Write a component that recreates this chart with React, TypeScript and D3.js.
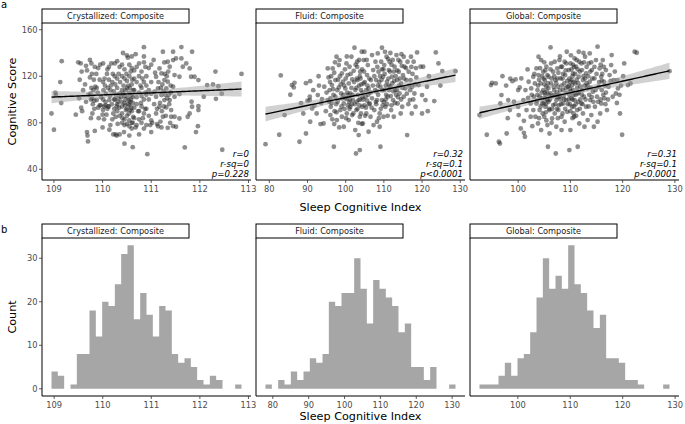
import React from "react";
import * as d3 from "d3";

type Pt = [number, number];

const panelTitles = ["Crystallized: Composite", "Fluid: Composite", "Global: Composite"];

const crystallizedPoints: Pt[] = [
  [108.95,88],[109.0,74],[109.03,106],[109.04,104],
  [109.15,97],[109.13,115],[109.16,133],
  [109.45,87],
  [109.5,132],[109.55,131],[109.53,117],[109.56,93],[109.58,90],[109.52,101],[109.57,124],[109.6,108],
  [109.66,129],[109.68,125],[109.66,98],[109.68,72],[109.69,69],[109.7,64],[109.64,113],[109.71,104],
  [109.74,134],[109.77,131],[109.77,110],[109.75,105],[109.76,100],[109.79,88],[109.84,73],[109.84,128],[109.82,117],[109.8,96],[109.78,122],[109.83,92],[109.81,108],[109.74,119],[109.85,111],[109.79,101],[109.76,84],[109.83,99],
  [109.88,110],[109.88,99.5],[109.91,93],[109.92,84],[109.94,95],[109.96,95],[109.97,102],[109.87,122],[109.91,127],[109.95,130],[109.94,117],[109.9,106],
  [110.0,87],[110.01,100],[110.01,91],[110.03,94],[110.06,95],[110.08,87],[110.1,92],[110.11,94],[110.01,131],[110.04,118],[110.01,115],[110.09,122],[110.11,110],[110.07,105],[110.0,76],[110.05,112],[110.03,83],[110.1,126],[110.06,98],[110.02,108],
  [110.13,94],[110.14,99.5],[110.16,108],[110.13,117],[110.18,131],[110.21,122],[110.2,115],[110.23,107],[110.14,74],[110.16,78],[110.22,88],[110.19,96],[110.15,103],[110.24,92],[110.17,112],[110.2,83],[110.24,100],[110.13,128],[110.22,70],
  [110.27,70],[110.29,69],[110.25,120],[110.3,118],[110.25,100],[110.3,96],[110.3,90],[110.35,86],[110.3,110],[110.35,105],[110.3,133],[110.25,131],[110.35,128],[110.32,98],[110.28,104],[110.34,93],[110.26,113],[110.36,115],[110.33,122],[110.27,85],[110.31,79],[110.35,70],[110.29,94],[110.33,101],
  [110.42,140],[110.4,130],[110.45,126],[110.4,120],[110.45,118],[110.4,108],[110.45,103],[110.4,94],[110.45,97],[110.4,88],[110.45,83],[110.4,80],[110.45,78],[110.45,62],[110.5,138],[110.5,116],[110.5,110],[110.5,92],[110.5,86],[110.5,79],[110.43,112],[110.47,100],[110.39,98],[110.48,91],[110.42,105],[110.46,95],[110.41,84],[110.49,122],[110.44,72],[110.38,102],[110.47,108],
  [110.52,136],[110.55,130],[110.55,120],[110.55,106],[110.55,95],[110.55,82],[110.55,77],[110.55,69],[110.6,137],[110.6,127],[110.6,113],[110.6,104],[110.6,90],[110.6,80],[110.62,97],[110.62,80],[110.62,59],[110.58,100],[110.53,112],[110.57,98],[110.63,108],[110.54,88],[110.59,93],[110.52,102],[110.61,117],[110.56,110],[110.63,85],[110.53,96],[110.58,124],[110.6,75],[110.54,99],[110.62,102],[110.57,91],
  [110.65,125],[110.65,118],[110.65,108],[110.65,93],[110.65,84],[110.68,139],[110.7,128],[110.7,115],[110.7,102],[110.7,96],[110.7,78],[110.68,76],[110.75,131],[110.75,120],[110.75,106],[110.73,90],
  [110.75,90],[110.75,83],[110.75,70],[110.8,124],[110.8,110],[110.8,103],[110.8,94],[110.8,80],[110.85,145],[110.85,137],[110.85,132],[110.85,115],[110.85,100],[110.85,88],[110.85,75],[110.78,112],[110.82,118],[110.88,106],[110.79,97],[110.87,92],[110.83,84],[110.88,128],
  [110.9,120],[110.9,112],[110.9,104],[110.9,92],[110.9,78],[110.92,53],[110.95,127],[110.95,108],[110.95,100],[110.95,86],[110.98,78],[111.0,130],[111.0,115],[111.0,105],[111.0,82],[111.0,72],[111.02,80],
  [111.1,119.6],[111.07,106.7],[111.1,102.4],[111.1,88],[111.12,78.9],[111.14,77],[111.14,109.5],[111.06,96],[111.15,115],[111.08,123],[111.12,92],[111.05,134],
  [111.17,126.7],[111.21,122.4],[111.27,116.7],[111.21,103.8],[111.27,99.5],[111.17,93.8],[111.24,85.2],[111.21,76],[111.24,141.1],[111.27,131.9],[111.2,110],[111.25,107],[111.18,97],[111.22,90],[111.28,122],[111.19,81],[111.26,94],[111.23,113],[111.29,104],
  [111.34,132.5],[111.38,128.2],[111.34,115.3],[111.31,109.5],[111.38,99.5],[111.31,93.2],[111.41,90.9],[111.41,85.2],[111.34,75.7],[111.32,120],[111.36,104],[111.4,112],[111.3,86],[111.37,96],[111.33,101],[111.39,80],[111.35,124],[111.4,106],
  [111.45,141.1],[111.45,133.9],[111.51,135.3],[111.48,121],[111.45,111],[111.48,102.4],[111.48,85.2],[111.45,77.1],[111.51,76.6],
  [111.62,145.1],[111.62,135.3],[111.58,119.6],[111.58,104.7],[111.58,83.7],[111.65,128.2],
  [111.72,131],[111.79,126.7],[111.69,58.8],[111.75,85.2],[111.79,88],
  [111.84,141.1],[111.84,93.8],[111.83,98.1],[111.82,119.6],[111.89,119.6],
  [111.97,116.7],[111.97,94.3],[111.97,90.9],[111.96,77.1],[111.92,72],
  [112.08,102.4],[112.15,112.4],
  [112.27,113],[112.32,124],[112.33,100.6],
  [112.38,111.5],[112.45,105],[112.46,56.8],
  [112.856,122]
];

const fluidPoints: Pt[] = [
  [79.0,61.6],
  [82.6,69.7],[83.0,120.7],
  [84.0,86.6],
  [85.5,104.1],[85.9,112.4],[86.4,110.4],[86.6,114.4],
  [87.9,63.7],[88.3,96.9],
  [89.6,114.1],[89.6,70.8],[90.0,99],[88.9,88],
  [90.6,99.5],[90.7,115.8],[90.6,102.4],[91.2,92.3],[90.7,80.9],[91.8,94.6],[91.5,108],
  [92.7,103.8],[93.4,78.9],[92.4,88],[93.0,112],[93.6,97],[92.9,120],
  [93.8,100.4],[94.2,79.4],[94.4,111],[95.3,126.7],[95.5,119],[95.3,99.5],[94.8,90],[95.0,106],
  [95.8,108.1],[96.0,86.6],[96.1,93.8],[96.4,112.4],[96.6,126.7],[96.9,59.4],[97.0,78.9],[97.3,116.7],[97.3,102.4],[95.7,98],[96.2,120],[96.8,104],[97.1,90],[96.5,83],[95.9,115],[97.2,132],[96.3,97],[96.7,109],[97.0,123],[96.0,101],
  [97.6,136.8],[97.7,82.3],[97.9,98.1],[98.2,110.4],[98.2,129.6],[98.4,133.9],[98.6,90.9],[98.8,105.2],[99.0,85.2],[99.0,122.4],[97.5,96],[98.0,117],[98.5,120],[98.9,94],[97.8,108],[98.3,76],[99.1,101],[98.7,113],[97.6,89],
  [99.3,115.3],[99.5,76.6],[99.5,96.6],[99.9,109.5],[100.2,131],[100.2,100.9],[100.3,88],[100.5,121],[100.8,82.3],[100.8,113.8],[99.4,104],[99.7,92],[100.0,118],[100.4,106],[100.6,95],[99.8,126],[100.1,84],[100.7,104],[99.6,112],[100.9,98],[100.3,137],[99.9,101],
  [101.0,128.2],[101.2,93.8],[101.2,105.2],[101.5,136.8],[101.7,117.3],[101.7,86.6],[101.9,99.5],[102.1,124.7],[102.3,144.5],[102.5,108.1],[102.5,73.7],[102.7,53.6],[101.5,110],[101.0,92],[102.0,88],[102.4,96],[101.3,122],[101.8,104],[102.2,115],[101.1,100],[102.6,130],[101.6,96],
  [102.8,90.9],[103.0,132.5],[103.1,116.7],[103.4,99.5],[103.4,69.4],[103.7,56.5],[103.7,85.2],[103.8,123.9],[104.0,108.1],[104.2,141.1],[104.3,93.8],[103.5,112],[103.0,128],[104.0,88],[103.2,104],[103.9,118],[104.4,102],[102.9,98],[103.6,95],[104.1,113],[103.3,80],[104.3,126],[102.8,110],[103.8,100],[104.2,79],[103.5,134],[103.1,92],[104.4,106],[103.7,120],[102.9,118],
  [104.5,79.4],[104.7,133.9],[104.7,113.8],[104.9,141.1],[105.2,102.4],[105.4,88],[105.6,121],[105.8,129.6],[106.0,72.3],[106.0,109.5],[105.0,115],[105.5,134],[104.6,100],[105.3,93],[105.9,104],[106.1,96],[104.8,124],[105.7,112],[105.1,86],[105.4,108],[106.2,118],[104.9,95],[105.6,99],
  [106.3,96.6],[106.5,85.2],[106.6,116.7],[106.9,138.2],[106.9,101],[107.2,125.3],[107.3,78],[107.5,90.9],[107.7,108.1],[107.8,132.5],[106.5,106],[107.5,120],[106.8,93],[107.1,112],[107.9,98],
  [108.0,116.7],[108.2,80.9],[108.2,99.5],[108.4,139.6],[108.6,123.9],[108.9,76.6],[108.9,88],[109.1,111],[109.1,59.4],[109.3,132.5],[109.5,144.5],[109.5,99.5],[108.5,104],[108.0,96],[109.5,126],[108.3,128],[108.8,115],[109.2,92],[108.1,107],[109.6,108],[108.7,84],[109.0,120],[109.4,117],[108.4,112],[109.7,95],
  [109.8,119.6],[109.9,85.2],[110.1,129.6],[110.1,108.1],[110.4,93.8],[110.7,136.8],[110.8,115.3],[111.0,102.4],[111.3,125.3],[111.5,132.5],[110.5,112],[110.0,98],[110.3,141],[111.0,86],[110.6,104],[111.2,118],[109.9,126],[110.8,96],[111.4,108],[110.2,122],[111.1,135],[110.5,100],[111.3,112],
  [111.7,111],[111.9,90.9],[112.1,119.6],[112.4,99.5],[112.6,85.2],[112.8,128.2],[113.0,108.1],[113.3,138.2],[112.0,130],[112.5,107],[111.6,124],[112.2,114],[112.9,97],[113.1,120],[111.8,103],[112.3,134],[112.7,116],[113.2,104],[112.0,95],[111.7,140],[112.6,124],
  [113.5,116.7],[113.6,96.6],[113.9,123.9],[114.1,105.2],[114.3,132.5],[114.5,113.8],[114.8,93.8],[115.0,121],[113.5,125],[114.5,100],[114.0,112],[114.7,129],[113.4,108],[114.2,118],[114.9,110],[113.8,134],[114.4,88],[113.7,102],[114.6,139],
  [115.2,136.8],[115.2,102.4],[115.4,128.2],[115.6,109.5],[115.9,116.7],[116.1,69.4],[116.2,132.5],[116.5,123.9],[116.0,105],[115.8,127],[116.6,112],[115.3,118],[116.4,96],
  [116.8,99.5],[117.0,116.7],[117.1,136.8],[117.4,111],[117.8,132.5],[118.0,105.2],[118.3,93.8],[117.5,122],[118.5,119],[117.2,128],[118.2,113],[116.9,108],[117.7,100],[118.4,127],[117.3,88],
  [118.7,140.5],[119.1,112.4],[119.6,128.2],[120.0,103.8],[120.0,88],
  [120.3,128.2],[120.9,99.5],[121.3,111],[121.8,120],[121.5,90],
  [123.6,140.5],[123.2,98.7],
  [124.3,131],[125.3,124.5],[124.8,112],
  [128.76,124.4]
];

const globalPoints: Pt[] = [
  [92.6,86.6],
  [94.0,69.7],
  [94.8,112.4],[95.0,114.4],[95.7,113.8],
  [96.5,62.2],[96.3,63.7],[96.6,96.6],[96.8,103.8],[97.0,120.1],
  [97.8,70.8],[98.1,99.5],[98.4,90.9],[97.7,112],[98.5,118],[98.0,84],
  [98.9,115.8],[99.2,98.1],[99.5,117.3],
  [100.0,108.1],[100.0,93.8],[100.1,86.6],[100.3,110.4],[100.5,75.1],[100.6,118.1],[101.0,99.5],
  [101.1,71.4],[101.3,68],[101.1,81.7],[101.4,108.1],[101.6,90.9],[101.8,125.9],[101.9,101.3],[102.0,115.3],
  [102.4,85.2],[102.4,96.6],[102.5,109.5],[102.7,77.1],[102.9,119.6],[102.9,90.9],[103.0,102.4],[103.2,113.8],[103.3,85.2],[103.5,126.7],[103.5,96.6],[102.6,104],[103.1,122],
  [103.7,108.1],[103.8,79.4],[103.9,136.8],[103.9,121],[104.1,90.9],[104.1,102.4],[104.3,113.8],[104.4,73.7],[104.4,133.9],[104.6,96.6],[103.6,99],[104.0,117],[104.2,127],[104.5,106],[103.8,112],[104.7,88],[104.3,94],[103.7,104],[104.6,120],[104.0,84],[104.5,101],
  [104.8,108.1],[104.8,123.9],[105.0,85.2],[105.1,116.7],[105.1,101],[105.2,93.8],[105.4,111],[105.4,128.2],[105.6,78],[105.7,99.5],[105.7,59.4],[105.8,119.6],[104.9,97],[105.0,113],[105.2,104],[105.3,89],[105.5,107],[105.6,121],[105.9,104],[105.0,132],[105.3,96],[105.8,110],[105.9,92],[104.9,118],[105.5,100],[105.2,125],[105.7,114],[105.4,82],[105.1,106],[105.8,98],
  [106.0,90.9],[106.0,70.8],[106.2,144.8],[106.2,105.2],[106.3,131],[106.3,113.8],[106.5,83.7],[106.7,95.2],[106.7,123.9],[106.9,108.1],[107.0,132.5],[107.0,88],[107.1,116.7],[106.1,100],[106.4,118],[106.6,103],[106.8,111],[107.1,96],[106.2,126],[106.5,92],[106.9,120],[106.4,80],[107.0,104],
  [107.2,53.6],[107.3,99.5],[107.3,76.6],[107.5,126.7],[107.6,111],[107.7,90.9],[107.9,133.9],[107.9,102.4],[108.1,118.1],[108.3,85.2],[108.3,73.7],[107.4,106],[107.5,118],[107.8,95],[108.0,108],[108.2,128],[107.3,114],[107.6,84],[108.1,100],[107.7,123],[108.3,112],[107.4,92],[108.0,137],[107.9,104],[108.2,96],[107.5,102],
  [108.4,128.2],[108.6,108.1],[108.6,96.6],[108.8,113.8],[108.9,132.5],[108.9,80.9],[109.0,121],[109.2,99.5],[109.3,141.1],[109.4,89.4],[109.5,111],[108.5,118],[108.7,103],[109.0,92],[109.1,125],[109.3,106],[108.5,88],[109.4,116],[108.8,100],[109.2,131],[109.5,96],[108.6,122],[109.1,110],
  [109.7,125.3],[109.8,56.5],[109.8,103.8],[110.0,73.7],[110.0,131],[110.2,116.7],[110.3,93.8],[110.5,108.1],[110.5,122.4],[110.7,85.2],[110.8,135.3],[110.8,99.5],[109.7,112],[109.9,96],[110.1,107],[110.2,126],[110.4,100],[110.6,115],[110.7,128],[109.8,118],[110.0,90],[110.3,112],[110.6,104],[110.1,138],[110.4,120],[109.9,109],[110.7,94],[110.2,101],[110.5,130],[110.0,115],[110.6,88],[109.7,100],[110.4,84],
  [110.9,113.8],[111.1,128.2],[111.3,90.9],[111.4,59.4],[111.4,105.2],[111.6,141.1],[111.6,119.6],[111.7,132.5],[111.7,79.4],[111.9,111],[111.0,104],[111.2,117],[111.5,98],[111.8,124],[111.0,96],[111.3,110],[111.6,106],[111.9,100],[111.2,134],[111.5,114],[110.9,122],[111.8,92],[111.4,126],[111.1,86],
  [112.1,96.6],[112.1,131],[112.2,125.3],[112.4,88],[112.4,116.7],[112.6,102.4],[112.7,76.6],[112.8,136.8],[113.0,122.4],[113.0,93.8],[113.2,109.5],[112.3,108],[112.5,120],[112.7,112],[112.9,100],[113.1,128],[112.2,104],[112.6,132],[112.8,118],[112.3,96],[113.1,114],[112.5,140],
  [113.3,82.3],[113.5,131],[113.7,115.3],[113.7,139.6],[113.8,99.5],[114.0,86.6],[114.1,125.3],[114.3,106.7],[113.4,120],[113.6,104],[113.9,110],[114.2,118],[113.5,94],[114.0,132],[113.3,112],[114.4,98],[113.8,124],[114.1,102],
  [114.5,76.6],[114.6,118.1],[114.7,93.8],[114.9,133.9],[115.1,102.4],[115.2,145.4],[115.2,80.9],[115.4,111],[115.6,126.7],[114.8,108],[115.0,122],[115.3,98],[114.6,128],[115.5,115],
  [115.7,88],[115.9,119.6],[115.9,96.6],[116.0,108.1],[116.2,133.9],[116.4,115.3],[116.5,101],[116.8,125.3],[116.1,122],[116.3,104],[116.6,112],[115.8,130],[116.7,96],[116.0,116],[116.4,128],[116.8,106],[115.8,100],
  [117.0,90.9],[117.3,111],[117.5,121],[117.8,129.6],[117.9,138.2],[117.2,100],[117.7,116],
  [118.1,102.4],[118.3,116.7],[118.7,105.2],[119.0,116.7],[119.1,109.5],[118.5,124],[118.9,97],
  [119.5,88],[119.9,69.7],[120.3,131],[119.7,112],[120.1,120],[119.4,104],
  [121.0,112.4],[121.5,113.8],
  [122.3,141.1],[122.7,140.2],
  [128.97,124.4]
];

// fitted regression line (value at min and max x) and CI half-widths
const fitStartY = [102.1, 87.5, 88.6];
const fitEndY = [109.0, 121.0, 124.7];
const bandCenterHalf = [2.0, 1.8, 1.8];
const bandLeftHalf = [5.2, 6.3, 5.3];
const bandRightHalf = [6.5, 6.0, 7.0];

const statR = ["r=0", "r=0.32", "r=0.31"];
const statRsq = ["r-sq=0", "r-sq=0.1", "r-sq=0.1"];
const statP = ["p=0.228", "p<0.0001", "p<0.0001"];

const xTicks = [
  [109, 110, 111, 112, 113],
  [80, 90, 100, 110, 120, 130],
  [100, 110, 120, 130],
];
const scatterYTicks = [40, 80, 120, 160];
const scatterYDomain = [30.8, 165.8];

const histCrystallized = [4,3,0,1,8,8,18,12,20,19,24,31,33,16,22,17,12,19,18,8,6,7,5,2,1,3,2,0,0,1];
const histFluid = [1,0,2,1,4,2,4,7,6,8,20,19,22,22,30,23,15,25,23,21,19,13,15,5,5,2,5,0,0,1];
const histGlobal = [1,1,1,3,6,3,7,8,13,21,30,23,26,23,33,24,22,18,14,17,7,7,6,2,2,1,0,0,0,1];
const histStart = [108.945, 77.96, 92.69];
const histBinWidth = [0.1304, 1.766, 1.208];
const histYTicks = [0, 10, 20, 30];

// layout
const PANEL_X0 = 42;
const PANEL_W = 209;
const PANEL_GAP = 5;
const STRIP_W = 147;
const STRIP_H = 14;
const A_TOP = 23;
const A_BOTTOM = 180;
const B_TOP = 238;
const B_BOTTOM = 396;
const FONT = "DejaVu Sans, Verdana, sans-serif";
const TICK_FS = 8.3;
const TITLE_FS = 11.2;

const panelLeft = (i: number) => PANEL_X0 + i * (PANEL_W + PANEL_GAP);

function Strip({ x, y, label }: { x: number; y: number; label: string }) {
  return (
    <g>
      <rect x={x} y={y} width={STRIP_W} height={STRIP_H} fill="#fff" stroke="#000" strokeWidth={1} />
      <text x={x + STRIP_W / 2} y={y + STRIP_H / 2 + 3} textAnchor="middle" fontSize={8.2} fill="#1a1a1a" fontFamily={FONT}>
        {label}
      </text>
    </g>
  );
}

export default function App() {
  const scatterSets = [crystallizedPoints, fluidPoints, globalPoints];
  const hists = [histCrystallized, histFluid, histGlobal];
  const yA = d3.scaleLinear().domain(scatterYDomain).range([A_BOTTOM, A_TOP]);
  const histMax = d3.max(hists.flat()) as number;
  const yB = d3.scaleLinear().domain([-0.05 * histMax, histMax * 1.05]).range([B_BOTTOM, B_TOP]);

  return (
    <svg width={685} height={424} style={{ position: "absolute", left: 0, top: 0, background: "#fff" }} fontFamily={FONT}>
      <rect x={0} y={0} width={685} height={424} fill="#fff" />
      {/* ---------- a: scatter panels ---------- */}
      {scatterSets.map((pts, i) => {
        const L = panelLeft(i);
        const [xmin, xmax] = d3.extent(pts, (d) => d[0]) as [number, number];
        const r = xmax - xmin;
        const x = d3.scaleLinear().domain([xmin - 0.05 * r, xmax + 0.05 * r]).range([L, L + PANEL_W]);
        const fit = d3.scaleLinear().domain([xmin, xmax]).range([fitStartY[i], fitEndY[i]]);
        const a = bandCenterHalf[i];
        const dl = Math.sqrt(bandLeftHalf[i] ** 2 - a * a);
        const dr = Math.sqrt(bandRightHalf[i] ** 2 - a * a);
        const b = (dl + dr) / r;
        const xm = xmin + dl / b;
        const half = (v: number) => Math.sqrt(a * a + (b * (v - xm)) ** 2);
        const xs = d3.range(0, 81).map((k) => xmin + (r * k) / 80);
        const area = d3
          .area<number>()
          .x((v) => x(v))
          .y0((v) => yA(fit(v) - half(v)))
          .y1((v) => yA(fit(v) + half(v)));
        const line = d3
          .line<number>()
          .x((v) => x(v))
          .y((v) => yA(fit(v)));
        return (
          <g key={"a" + i}>
            {pts.map((p, k) => (
              <circle key={k} cx={x(p[0])} cy={yA(p[1])} r={2.4} fill="#262626" fillOpacity={0.52} />
            ))}
            <path d={area(xs) || ""} fill="#999" fillOpacity={0.45} />
            <path d={line(xs) || ""} fill="none" stroke="#000" strokeWidth={1.4} />
            <text x={L + PANEL_W - 2} y={157} textAnchor="end" fontSize={8.6} fontStyle="italic" fill="#000">{statR[i]}</text>
            <text x={L + PANEL_W - 2} y={166.8} textAnchor="end" fontSize={8.6} fontStyle="italic" fill="#000">{statRsq[i]}</text>
            <text x={L + PANEL_W - 2} y={176.6} textAnchor="end" fontSize={8.6} fontStyle="italic" fill="#000">{statP[i]}</text>
            {/* axes */}
            <line x1={L} x2={L} y1={A_TOP} y2={A_BOTTOM} stroke="#000" strokeWidth={1} />
            <line x1={L} x2={L + PANEL_W} y1={A_BOTTOM} y2={A_BOTTOM} stroke="#000" strokeWidth={1} />
            {xTicks[i].map((t) => (
              <g key={t}>
                <line x1={x(t)} x2={x(t)} y1={A_BOTTOM} y2={A_BOTTOM + 3} stroke="#333" strokeWidth={0.8} />
                <text x={x(t)} y={A_BOTTOM + 11.5} textAnchor="middle" fontSize={TICK_FS} fill="#4d4d4d">{t}</text>
              </g>
            ))}
            {i === 0 &&
              scatterYTicks.map((t) => (
                <g key={t}>
                  <line x1={L - 3} x2={L} y1={yA(t)} y2={yA(t)} stroke="#333" strokeWidth={0.8} />
                  <text x={L - 4.5} y={yA(t) + 3} textAnchor="end" fontSize={TICK_FS} fill="#4d4d4d">{t}</text>
                </g>
              ))}
            <Strip x={L} y={A_TOP - STRIP_H} label={panelTitles[i]} />
          </g>
        );
      })}
      <text x={16} y={(A_TOP + A_BOTTOM) / 2} transform={`rotate(-90 16 ${(A_TOP + A_BOTTOM) / 2})`} textAnchor="middle" fontSize={TITLE_FS} fill="#000">Cognitive Score</text>
      <text x={panelLeft(1) + PANEL_W / 2} y={211} textAnchor="middle" fontSize={TITLE_FS} fill="#000">Sleep Cognitive Index</text>
      <text x={1} y={8} fontSize={10} fill="#000">a</text>

      {/* ---------- b: histogram panels ---------- */}
      {hists.map((counts, i) => {
        const L = panelLeft(i);
        const w = histBinWidth[i];
        const s = histStart[i];
        const span = counts.length * w;
        const x = d3.scaleLinear().domain([s - 0.05 * span, s + span + 0.05 * span]).range([L, L + PANEL_W]);
        const p = d3.path();
        counts.forEach((c, k) => {
          if (c > 0) {
            const x0 = x(s + k * w);
            const x1 = x(s + (k + 1) * w);
            p.rect(x0, yB(c), x1 - x0, yB(0) - yB(c));
          }
        });
        return (
          <g key={"b" + i}>
            <path d={p.toString()} fill="#a6a6a6" fillRule="nonzero" />
            <line x1={L} x2={L} y1={B_TOP} y2={B_BOTTOM} stroke="#000" strokeWidth={1} />
            <line x1={L} x2={L + PANEL_W} y1={B_BOTTOM} y2={B_BOTTOM} stroke="#000" strokeWidth={1} />
            {xTicks[i].map((t) => (
              <g key={t}>
                <line x1={x(t)} x2={x(t)} y1={B_BOTTOM} y2={B_BOTTOM + 3} stroke="#333" strokeWidth={0.8} />
                <text x={x(t)} y={B_BOTTOM + 11.5} textAnchor="middle" fontSize={TICK_FS} fill="#4d4d4d">{t}</text>
              </g>
            ))}
            {i === 0 &&
              histYTicks.map((t) => (
                <g key={t}>
                  <line x1={L - 3} x2={L} y1={yB(t)} y2={yB(t)} stroke="#333" strokeWidth={0.8} />
                  <text x={L - 4.5} y={yB(t) + 3} textAnchor="end" fontSize={TICK_FS} fill="#4d4d4d">{t}</text>
                </g>
              ))}
            <Strip x={L} y={B_TOP - STRIP_H} label={panelTitles[i]} />
          </g>
        );
      })}
      <text x={16} y={(B_TOP + B_BOTTOM) / 2} transform={`rotate(-90 16 ${(B_TOP + B_BOTTOM) / 2})`} textAnchor="middle" fontSize={TITLE_FS} fill="#000">Count</text>
      <text x={panelLeft(1) + PANEL_W / 2} y={420} textAnchor="middle" fontSize={TITLE_FS} fill="#000">Sleep Cognitive Index</text>
      <text x={1} y={233} fontSize={10} fill="#000">b</text>
    </svg>
  );
}
